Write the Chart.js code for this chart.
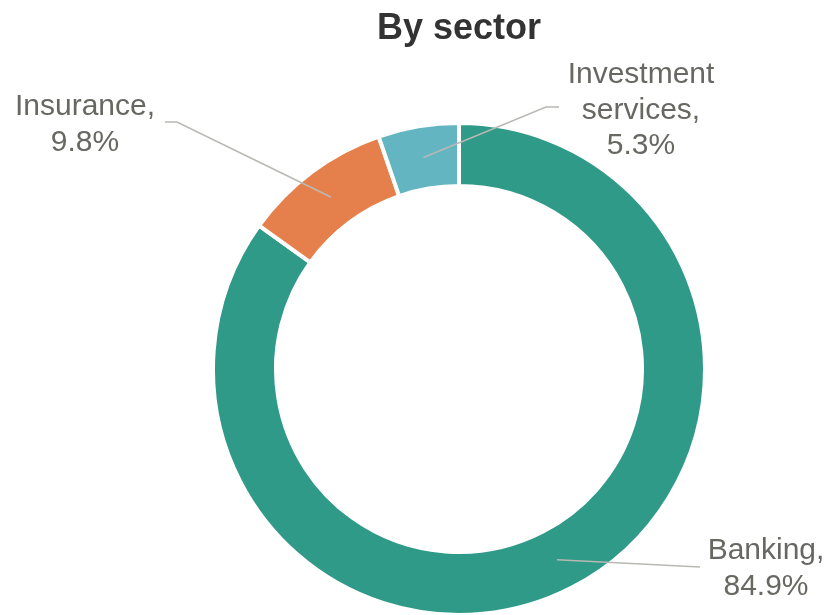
<!DOCTYPE html>
<html>
<head>
<meta charset="utf-8">
<script src="https://cdn.jsdelivr.net/npm/chart.js@4/dist/chart.umd.min.js"></script>
<style>
  html, body { margin: 0; padding: 0; background: #ffffff; }
  #wrap { width: 831px; height: 615px; }
</style>
</head>
<body>
<div id="wrap"><canvas id="c" width="831" height="615"></canvas></div>
<script>
// ---- data ----
const chartTitle = 'By sector';
const categories = ['Banking', 'Insurance', 'Investment services'];
const shares = [84.9, 9.8, 5.3];
const sliceColors = ['#2F9A88', '#E5804C', '#63B6C1'];

// ---- label layout (style only) ----
const labelLayout = [
  { x: 766, y: 559, wrap: false, start: [700, 567], elbow: null },
  { x: 85,  y: 115, wrap: false, start: [165, 122], elbow: [177, 122] },
  { x: 641, y: 83,  wrap: true,  start: [559, 107], elbow: [546, 107] }
];

function labelLines(i) {
  const cat = categories[i];
  const lines = labelLayout[i].wrap ? cat.split(' ') : [cat];
  lines[lines.length - 1] += ',';
  lines.push(shares[i].toFixed(1) + '%');
  return lines;
}

const calloutPlugin = {
  id: 'callouts',
  afterDatasetsDraw(chart) {
    const ctx = chart.ctx;
    const meta = chart.getDatasetMeta(0);
    ctx.save();
    meta.data.forEach((arc, i) => {
      const L = labelLayout[i];
      const p = arc.tooltipPosition();
      ctx.beginPath();
      ctx.strokeStyle = '#B8B8B4';
      ctx.lineWidth = 1.6;
      ctx.moveTo(L.start[0], L.start[1]);
      if (L.elbow) ctx.lineTo(L.elbow[0], L.elbow[1]);
      ctx.lineTo(p.x, p.y);
      ctx.stroke();
    });
    ctx.fillStyle = '#686863';
    ctx.font = '30px "Liberation Sans", Arial, sans-serif';
    ctx.textAlign = 'center';
    ctx.textBaseline = 'alphabetic';
    meta.data.forEach((arc, i) => {
      const L = labelLayout[i];
      labelLines(i).forEach((t, k) => {
        ctx.fillText(t, L.x, L.y + k * 35.5);
      });
    });
    ctx.restore();
  }
};

new Chart(document.getElementById('c'), {
  type: 'doughnut',
  data: {
    labels: categories,
    datasets: [{
      data: shares,
      backgroundColor: sliceColors,
      borderColor: '#ffffff',
      borderWidth: 4,
      hoverOffset: 0
    }]
  },
  options: {
    responsive: false,
    animation: false,
    devicePixelRatio: 1,
    radius: 246,
    cutout: '74.4%',
    rotation: 0,
    layout: { padding: { top: 0, bottom: 0, left: 100, right: 13 } },
    plugins: {
      legend: { display: false },
      tooltip: { enabled: false },
      title: {
        display: true,
        text: chartTitle,
        color: '#333333',
        font: { family: '"Liberation Sans", Arial, sans-serif', size: 36, weight: 'bold', lineHeight: 1.2 },
        padding: { top: 7, bottom: 72.8 }
      }
    }
  },
  plugins: [calloutPlugin]
});
</script>
</body>
</html>
